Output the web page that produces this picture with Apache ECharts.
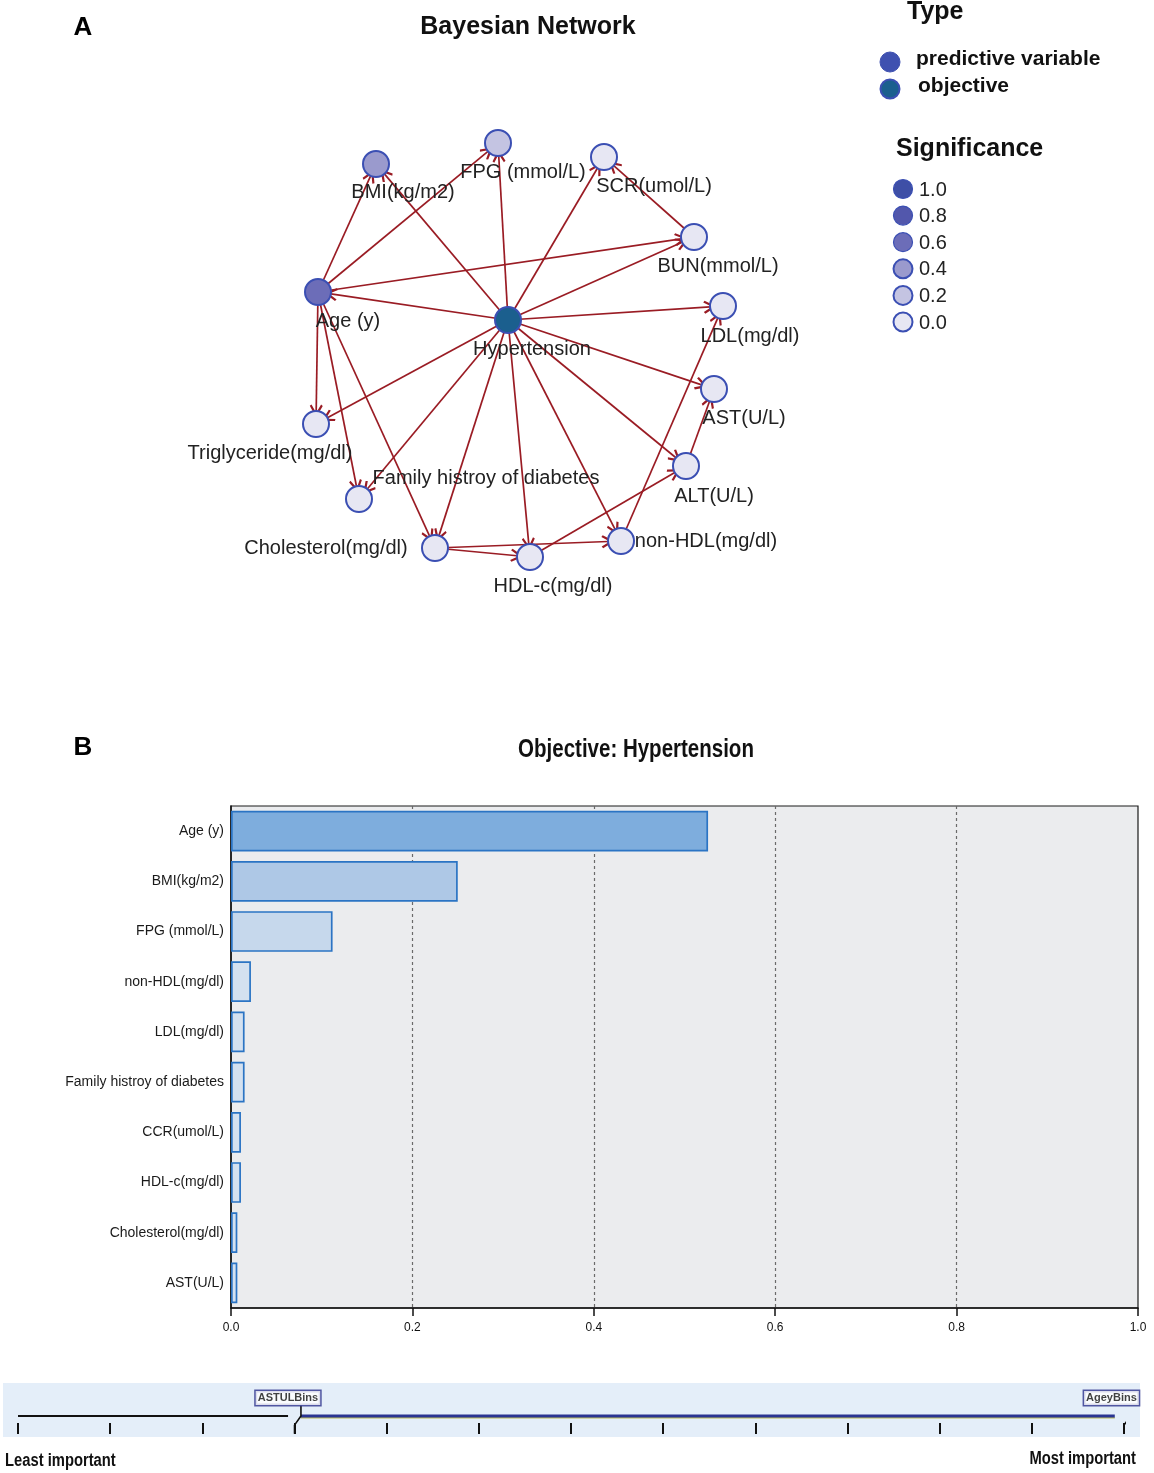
<!DOCTYPE html>
<html><head><meta charset="utf-8">
<script src="https://cdn.jsdelivr.net/npm/echarts@6/dist/echarts.min.js"></script>
<style>html,body{margin:0;padding:0;background:#fff}#c{width:1154px;height:1473px}</style>
</head><body><div id="c"></div>
<script>
// ---------- Panel A : Bayesian network data ----------
const nodeNames = ['Hypertension','Age (y)','BMI(kg/m2)','FPG (mmol/L)','SCR(umol/L)','BUN(mmol/L)','LDL(mg/dl)','AST(U/L)','ALT(U/L)','non-HDL(mg/dl)','HDL-c(mg/dl)','Cholesterol(mg/dl)','Family histroy of diabetes','Triglyceride(mg/dl)'];
// layout coordinates of the network (layout units)
const nodeX = [508,318,376,498,604,694,723,714,686,621,530,435,359,316];
const nodeY = [320,292,164,143,157,237,306,389,466,541,557,548,499,424];
const nodeType = ['objective','predictive','predictive','predictive','predictive','predictive','predictive','predictive','predictive','predictive','predictive','predictive','predictive','predictive'];
const nodeSignificance = [1.0,0.6,0.4,0.2,0,0,0,0,0,0,0,0,0,0];
const edgeList = [
  ['Hypertension','Age (y)'],['Hypertension','BMI(kg/m2)'],['Hypertension','FPG (mmol/L)'],['Hypertension','SCR(umol/L)'],
  ['Hypertension','BUN(mmol/L)'],['Hypertension','LDL(mg/dl)'],['Hypertension','AST(U/L)'],['Hypertension','ALT(U/L)'],
  ['Hypertension','non-HDL(mg/dl)'],['Hypertension','HDL-c(mg/dl)'],['Hypertension','Cholesterol(mg/dl)'],
  ['Hypertension','Family histroy of diabetes'],['Hypertension','Triglyceride(mg/dl)'],
  ['Age (y)','BMI(kg/m2)'],['Age (y)','FPG (mmol/L)'],['Age (y)','BUN(mmol/L)'],['Age (y)','Triglyceride(mg/dl)'],
  ['Age (y)','Family histroy of diabetes'],['Age (y)','Cholesterol(mg/dl)'],
  ['BUN(mmol/L)','SCR(umol/L)'],['non-HDL(mg/dl)','LDL(mg/dl)'],['ALT(U/L)','AST(U/L)'],['HDL-c(mg/dl)','ALT(U/L)'],
  ['Cholesterol(mg/dl)','non-HDL(mg/dl)'],['Cholesterol(mg/dl)','HDL-c(mg/dl)']
];
const significanceLevels = [1.0,0.8,0.6,0.4,0.2,0.0];
const typeLegend = ['predictive variable','objective'];

// ---------- Panel B : predictor importance ----------
const barCategories = ['Age (y)','BMI(kg/m2)','FPG (mmol/L)','non-HDL(mg/dl)','LDL(mg/dl)','Family histroy of diabetes','CCR(umol/L)','HDL-c(mg/dl)','Cholesterol(mg/dl)','AST(U/L)'];
const barValues = [0.526,0.250,0.112,0.022,0.015,0.015,0.011,0.011,0.007,0.007];
const xAxisMin = 0, xAxisMax = 1.0, xAxisStep = 0.2;

// ---------- importance slider ----------
const sliderSteps = 12;              // positions 0..12
const sliderRange = [3, 12];         // shown range: least -> most important
const sliderLabels = ['ASTULBins','AgeyBins'];

// ---------- styles ----------
const sigColors = {'1':'#3e4fa6','0.8':'#5257ac','0.6':'#6c6db8','0.4':'#9a9acd','0.2':'#c4c4e2','0':'#e7e7f3'};
const nodeBorder = '#3b4fb3';
const objectiveFill = '#1b5f8e';
const edgeColor = '#9a1c24';
const labelOffset = {
  'Hypertension':[24,29],'Age (y)':[30,29],'BMI(kg/m2)':[27,28],'FPG (mmol/L)':[25,29],'SCR(umol/L)':[50,29],
  'BUN(mmol/L)':[24,29],'LDL(mg/dl)':[27,30],'AST(U/L)':[30,29],'ALT(U/L)':[28,30],'non-HDL(mg/dl)':[85,0],
  'HDL-c(mg/dl)':[23,29],'Cholesterol(mg/dl)':[-109,0],'Family histroy of diabetes':[127,-21],'Triglyceride(mg/dl)':[-46,29]
};
const barFills = ['#7eaddd','#aec8e6','#c6d8ec','#d4e1f0','#d4e1f0','#d4e1f0','#d4e1f0','#d4e1f0','#d4e1f0','#d4e1f0'];
const SANS = 'Liberation Sans, Arial, sans-serif';
const NARROW_SCALE = 0.82;

function sigColor(s){ return sigColors[String(Math.round(s*5)/5)] || sigColors['0']; }

const nodes = nodeNames.map((n,i)=>({
  name:n, value:[nodeX[i], nodeY[i]],
  itemStyle:{color: nodeType[i]==='objective' ? objectiveFill : sigColor(nodeSignificance[i]), borderColor:nodeBorder, borderWidth:2},
  label:{offset: labelOffset[n]}
}));
const links = edgeList.map(e=>({source:e[0], target:e[1]}));

const chevron = 'path://M5,0 L10,8.2 L8.7,9.2 L5,3.3 L1.3,9.2 L0,8.2 Z';

function narrowText(x, y, text, size, align){
  return {type:'text', x:x, y:y, scaleX:NARROW_SCALE, style:{text:text, font:'bold '+size+'px '+SANS, fill:'#111', align:align, verticalAlign:'middle'}};
}

const graphic = [
  {type:'text', x:83, y:28, style:{text:'A', font:'bold 26px '+SANS, fill:'#000', align:'center', verticalAlign:'middle'}},
  {type:'text', x:528, y:27, style:{text:'Bayesian Network', font:'bold 25px '+SANS, fill:'#111', align:'center', verticalAlign:'middle'}},
  {type:'text', x:907, y:12, style:{text:'Type', font:'bold 25px '+SANS, fill:'#111', align:'left', verticalAlign:'middle'}},
  {type:'circle', shape:{cx:890, cy:62, r:10}, style:{fill:'#3f51b0', stroke:'#3f51b0', lineWidth:1}},
  {type:'text', x:916, y:59, style:{text:typeLegend[0], font:'bold 21px '+SANS, fill:'#111', align:'left', verticalAlign:'middle'}},
  {type:'circle', shape:{cx:890, cy:89, r:9.5}, style:{fill:objectiveFill, stroke:nodeBorder, lineWidth:2}},
  {type:'text', x:918, y:86, style:{text:typeLegend[1], font:'bold 21px '+SANS, fill:'#111', align:'left', verticalAlign:'middle'}},
  {type:'text', x:896, y:149, style:{text:'Significance', font:'bold 25px '+SANS, fill:'#111', align:'left', verticalAlign:'middle'}},
  {type:'text', x:83, y:748, style:{text:'B', font:'bold 26px '+SANS, fill:'#000', align:'center', verticalAlign:'middle'}},
  narrowText(636, 750, 'Objective: Hypertension', 25, 'center'),
  {type:'rect', shape:{x:3, y:1383, width:1137, height:54}, style:{fill:'#e4eef9'}, z:-10},
  narrowText(5, 1461, 'Least important', 18, 'left'),
  narrowText(1136, 1459, 'Most important', 18, 'right')
];
significanceLevels.forEach((s,i)=>{
  const cy = 189 + i*26.6;
  graphic.push({type:'circle', shape:{cx:903, cy:cy, r:9.5}, style:{fill:sigColor(s), stroke:nodeBorder, lineWidth: s<=0.4?2:1.2}});
  graphic.push({type:'text', x:919, y:cy+1, style:{text:s.toFixed(1), font:'20px '+SANS, fill:'#222', align:'left', verticalAlign:'middle'}});
});

const sliderConnector = p => [[p+0.07,0.58],[p+0.07,0.39],[p,0.22],[p,0.06]];
const lineBase = {type:'line', xAxisIndex:2, yAxisIndex:2, symbol:'none', silent:true, clip:false};

const option = {
  animation:false,
  backgroundColor:'#fff',
  graphic: graphic,
  grid:[
    {left:0, top:0, width:1154, height:700, show:false},
    {left:231, top:806, width:907, height:502, show:true, backgroundColor:'#ebecee', borderColor:'#1a1a1a', borderWidth:1.2},
    {left:18, top:1383, width:1106, height:54, show:false}
  ],
  xAxis:[
    {gridIndex:0, type:'value', min:0, max:1154, show:false},
    {gridIndex:1, type:'value', min:xAxisMin, max:xAxisMax, interval:xAxisStep,
      axisLine:{show:true, lineStyle:{color:'#111', width:1.5}},
      axisTick:{show:true, length:8, lineStyle:{color:'#111', width:1.5}},
      axisLabel:{formatter:v=>v.toFixed(1), fontSize:12, fontFamily:SANS, color:'#111', margin:14},
      splitLine:{show:true, showMinLine:false, showMaxLine:false, lineStyle:{color:'#6a6a6a', width:1.2, type:[3,3]}}},
    {gridIndex:2, type:'value', min:0, max:sliderSteps, interval:1, offset:-3,
      axisLine:{show:false}, axisLabel:{show:false}, splitLine:{show:false},
      axisTick:{show:true, inside:true, length:11, lineStyle:{color:'#111', width:2}}}
  ],
  yAxis:[
    {gridIndex:0, type:'value', min:0, max:700, inverse:true, show:false},
    {gridIndex:1, type:'category', data:barCategories, inverse:true,
      axisLine:{show:true, lineStyle:{color:'#111', width:1.5}}, axisTick:{show:false},
      axisLabel:{fontSize:14, fontFamily:SANS, color:'#1a1a1a', margin:7}},
    {gridIndex:2, type:'value', min:0, max:1, show:false}
  ],
  series:[
    {type:'graph', coordinateSystem:'cartesian2d', xAxisIndex:0, yAxisIndex:0,
      symbol:'circle', symbolSize:26, data:nodes, links:links,
      edgeSymbol:['none', chevron], edgeSymbolSize:[0,13],
      lineStyle:{color:edgeColor, width:1.7, opacity:1, curveness:0},
      label:{show:true, position:'inside', fontSize:20, fontFamily:SANS, color:'#222', align:'center', verticalAlign:'middle'},
      emphasis:{disabled:true}, z:3},
    {type:'bar', xAxisIndex:1, yAxisIndex:1, barCategoryGap:'19%',
      data: barValues.map((v,i)=>({value:v, itemStyle:{color:barFills[i]}})),
      itemStyle:{borderColor:'#2b74c4', borderWidth:1.7}, emphasis:{disabled:true}},
    Object.assign({}, lineBase, {data:[[0,0.39],[sliderRange[0]-0.07,0.39]], lineStyle:{color:'#111', width:2}}),
    Object.assign({}, lineBase, {data:[[sliderRange[0]+0.07,0.355],[sliderRange[1]-0.1,0.355]], lineStyle:{color:'#b8b85a', width:1.5}}),
    Object.assign({}, lineBase, {data:[[sliderRange[0]+0.07,0.39],[sliderRange[1]-0.1,0.39]], lineStyle:{color:'#2a3592', width:3}}),
    Object.assign({}, lineBase, {data:sliderConnector(sliderRange[0]), lineStyle:{color:'#111', width:1.6}}),
    Object.assign({}, lineBase, {data:sliderConnector(sliderRange[1]), lineStyle:{color:'#111', width:1.6}}),
    {type:'scatter', xAxisIndex:2, yAxisIndex:2, symbolSize:0, silent:true, clip:false,
      data:[
        {value:[sliderRange[0]+0.07,0.72], name:sliderLabels[0], label:{offset:[-13,0]}},
        {value:[sliderRange[1]+0.07,0.72], name:sliderLabels[1], label:{offset:[-19,0]}}
      ],
      label:{show:true, position:'inside', formatter:p=>p.name, fontSize:11, fontWeight:'bold', fontFamily:SANS, color:'#111',
        backgroundColor:'#fff', borderColor:'#2a2f8c', borderWidth:1.5, padding:[2,2,1,2]}, z:5}
  ]
};
const chart = echarts.init(document.getElementById('c'), null, {renderer:'canvas'});
chart.setOption(option);
</script></body></html>
